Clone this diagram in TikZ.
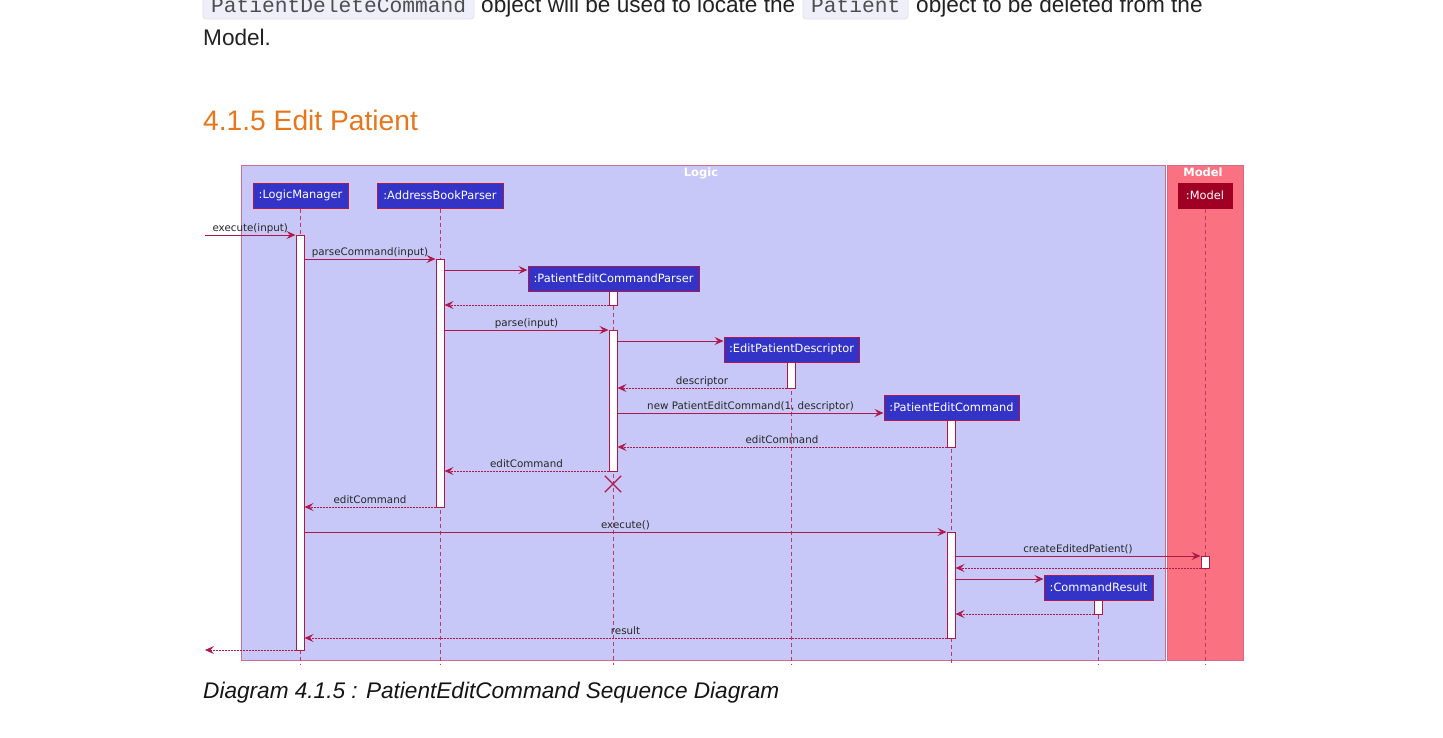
\documentclass[tikz,border=0pt]{standalone}
\usepackage{fontspec}
\setmainfont{Liberation Sans}
\setmonofont{Liberation Mono}
\newfontfamily\umlfont{DejaVu Sans}
\usetikzlibrary{arrows.meta}
\definecolor{umlline}{HTML}{B0184A}
\definecolor{logicbg}{HTML}{C8C8F8}
\definecolor{modelbg}{HTML}{FA7282}
\definecolor{frameline}{HTML}{D06C8C}
\definecolor{partblue}{HTML}{3333C8}
\definecolor{partred}{HTML}{A00024}
\definecolor{headorange}{HTML}{E8761A}
\definecolor{codebg}{HTML}{EFEFFA}
\definecolor{codeborder}{HTML}{E2E2F0}
\definecolor{bodytext}{HTML}{222222}
\tikzset{
  frame/.style={draw=frameline, line width=0.8pt},
  part/.style={draw=umlline, fill=partblue, text=white, font=\umlfont\fontsize{11.4}{13}\selectfont, inner sep=0pt, minimum height=25pt, line width=1pt},
  partm/.style={part, fill=partred, draw=partred},
  actbar/.style={draw=umlline, fill=white, minimum width=8pt, inner sep=0pt, line width=1pt},
  life/.style={draw=umlline!85, dash pattern=on 4pt off 3pt, line width=0.9pt},
  msg/.style={draw=umlline, line width=0.9pt, -{Stealth[length=9pt,width=8pt,inset=3.5pt]}},
  ret/.style={msg, dash pattern=on 1.5pt off 1.5pt},
  lbl/.style={font=\umlfont\fontsize{10.3}{12}\selectfont, text=black!85, inner sep=0pt, anchor=base},
  ttl/.style={font=\umlfont\bfseries\fontsize{11.5}{12}\selectfont, text=white, inner sep=0pt, anchor=base},
  body/.style={font=\fontsize{22.6}{26}\selectfont, text=bodytext, inner sep=0pt, anchor=base west},
  code/.style={font=\ttfamily\fontsize{21.25}{26}\selectfont, text=bodytext!80, inner sep=0pt, anchor=base west},
  codebox/.style={fill=codebg, draw=codeborder, line width=0.8pt, rounded corners=3pt},
  xmark/.style={draw=umlline, line width=1.3pt}
}
\begin{document}
\begin{tikzpicture}[x=1pt,y=-1pt]
\useasboundingbox (0,0) rectangle (1443,737);
\fill[white] (0,0) rectangle (1443,737);

% page text
\draw[codebox] (203,-12) rectangle (474,19);
\draw[codebox] (803,-12) rectangle (908,19);
\node[code] (c1) at (211,12) {PatientDeleteCommand};
\node[body] (t1) at (481,12) {object will be used to locate the};
\node[code] (c2) at (811,12) {Patient};
\node[body] (t2) at (916,12) {object to be deleted from the};
\node[body] (t3) at (203,45) {Model.};
\node[body, font=\fontsize{28.2}{32}\selectfont, text=headorange] (head) at (203,130) {4.1.5 Edit Patient};
\node[body, font=\itshape\fontsize{22.6}{26}\selectfont, text=black!92] (cap) at (203,698) {Diagram 4.1.5 : PatientEditCommand Sequence Diagram};

% boxes
\draw[frame, fill=logicbg] (241,165) rectangle (1165,660);
\draw[frame, fill=modelbg] (1167,165) rectangle (1243,660);
\node[ttl] (logict) at (701,176) {Logic};
\node[ttl] (modelt) at (1203,176) {Model};

% participants
\node[part, minimum width=95pt] (lm) at (300.5,195.5) {:LogicManager};
\node[part, minimum width=126pt] (abp) at (440,195.5) {:AddressBookParser};
\node[part, minimum width=171pt] (pecp) at (613.5,278.5) {:PatientEditCommandParser};
\node[part, minimum width=135pt] (epd) at (791.5,349.5) {:EditPatientDescriptor};
\node[part, minimum width=135pt] (pec) at (951.5,407.5) {:PatientEditCommand};
\node[part, minimum width=109pt] (cr) at (1098.5,587.5) {:CommandResult};
\node[partm, minimum width=54pt] (mdl) at (1205,195.5) {:Model};

% lifelines
\coordinate (lmE) at (300,665);
\coordinate (abpE) at (440,665);
\coordinate (pecpE) at (613,665);
\coordinate (epdE) at (791,665);
\coordinate (pecE) at (951,665);
\coordinate (crE) at (1098,665);
\coordinate (mdlE) at (1205,665);
\draw[life] (lm.south -| lmE) -- (lmE);
\draw[life] (abp.south -| abpE) -- (abpE);
\draw[life] (pecp.south -| pecpE) -- (pecpE);
\draw[life] (epd.south -| epdE) -- (epdE);
\draw[life] (pec.south -| pecE) -- (pecE);
\draw[life] (cr.south -| crE) -- (crE);
\draw[life] (mdl.south -| mdlE) -- (mdlE);

% activation bars
\node[actbar, minimum height=415pt] (lmA) at (300,442.5) {};
\node[actbar, minimum height=248pt] (abpA) at (440,383) {};
\node[actbar, minimum height=14pt] (pecpA1) at (613,298) {};
\node[actbar, minimum height=141pt] (pecpA2) at (613,400.5) {};
\node[actbar, minimum height=26pt] (epdA) at (791,375) {};
\node[actbar, minimum height=27pt] (pecA1) at (951,433.5) {};
\node[actbar, minimum height=106pt] (pecA2) at (951,585) {};
\node[actbar, minimum height=12pt] (mdlA) at (1205,562) {};
\node[actbar, minimum height=14pt] (crA) at (1098,607) {};

% destruction
\node[minimum size=16pt, inner sep=0pt] (xd) at (613,484) {};
\draw[xmark] (xd.north west) -- (xd.south east) (xd.north east) -- (xd.south west);

% messages
\coordinate (inS) at (205,235);
\coordinate (outE) at (205,650);
\draw[msg] (inS) -- (lmA.west |- inS) node[lbl, midway, yshift=4pt] {execute(input)};
\draw[msg] (lmA.east |- 0,259) -- (abpA.west |- 0,259) node[lbl, midway, yshift=4pt] {parseCommand(input)};
\draw[msg] (abpA.east |- 0,270) -- (pecp.west |- 0,270);
\draw[ret] (pecpA1.west |- 0,305) -- (abpA.east |- 0,305);
\draw[msg] (abpA.east |- 0,330) -- (pecpA2.west |- 0,330) node[lbl, midway, yshift=4pt] {parse(input)};
\draw[msg] (pecpA2.east |- 0,341) -- (epd.west |- 0,341);
\draw[ret] (epdA.west |- 0,388) -- (pecpA2.east |- 0,388) node[lbl, midway, yshift=4pt] {descriptor};
\draw[msg] (pecpA2.east |- 0,413) -- (pec.west |- 0,413) node[lbl, midway, yshift=4pt] {new PatientEditCommand(1, descriptor)};
\draw[ret] (pecA1.west |- 0,447) -- (pecpA2.east |- 0,447) node[lbl, midway, yshift=4pt] {editCommand};
\draw[ret] (pecpA2.west |- 0,471) -- (abpA.east |- 0,471) node[lbl, midway, yshift=4pt] {editCommand};
\draw[ret] (abpA.west |- 0,507) -- (lmA.east |- 0,507) node[lbl, midway, yshift=4pt] {editCommand};
\draw[msg] (lmA.east |- 0,532) -- (pecA2.west |- 0,532) node[lbl, midway, yshift=4pt] {execute()};
\draw[msg] (pecA2.east |- 0,556) -- (mdlA.west |- 0,556) node[lbl, midway, yshift=4pt] {createEditedPatient()};
\draw[ret] (mdlA.west |- 0,568) -- (pecA2.east |- 0,568);
\draw[msg] (pecA2.east |- 0,579) -- (cr.west |- 0,579);
\draw[ret] (crA.west |- 0,614) -- (pecA2.east |- 0,614);
\draw[ret] (pecA2.west |- 0,638) -- (lmA.east |- 0,638) node[lbl, midway, yshift=4pt] {result};
\draw[ret] (lmA.west |- outE) -- (outE);
\end{tikzpicture}
\end{document}
